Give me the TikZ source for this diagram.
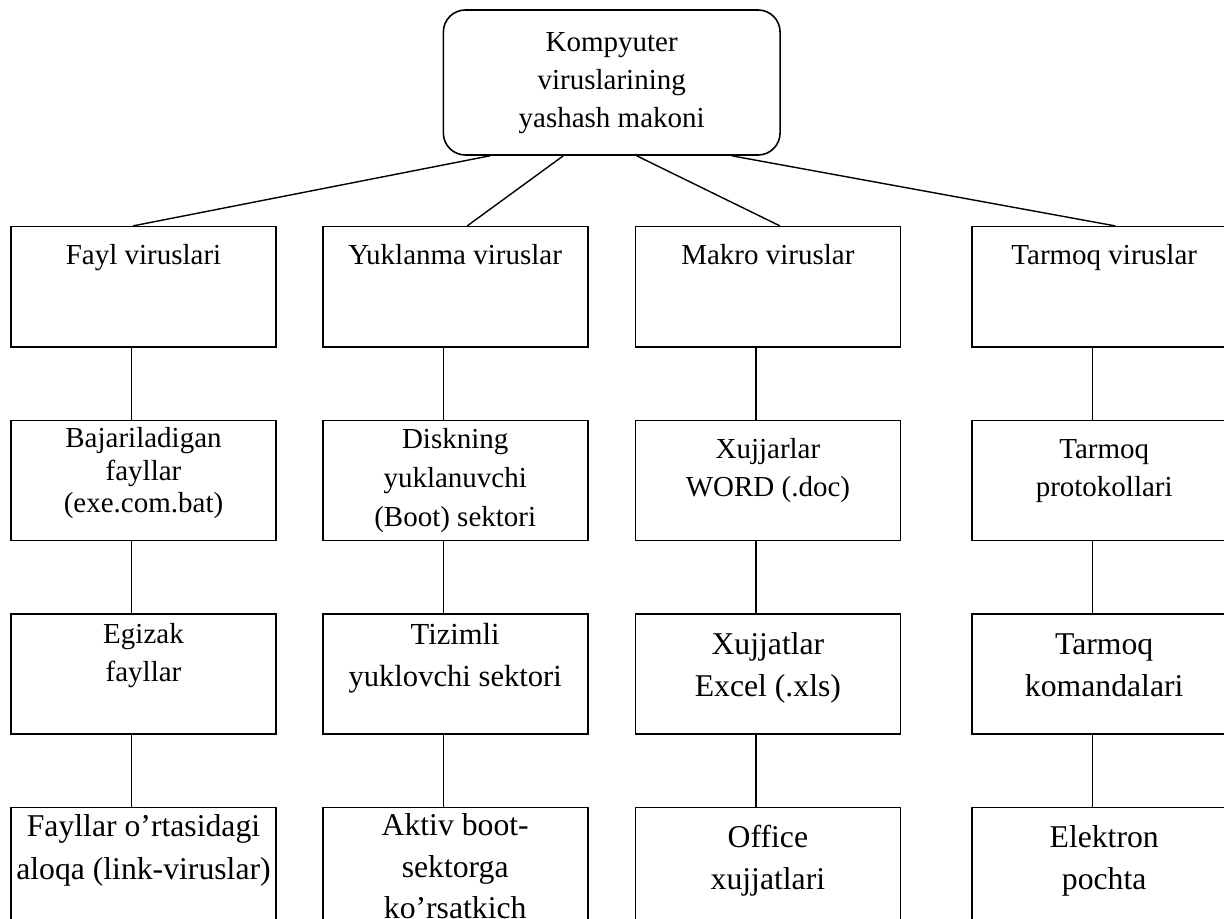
\documentclass[tikz,border=0pt]{standalone}
\usepackage{fontspec}
\setmainfont{Liberation Serif}
\usetikzlibrary{positioning}

\newcommand{\intxt}[4]{\parbox[t][60pt][t]{132.5pt}{\centering\fontsize{#1}{#2}\selectfont\rule{0pt}{#3}#4}}

\begin{document}
\begin{tikzpicture}[x=0.5pt,y=-0.5pt,node distance=36pt,
 box/.style={draw,line width=0.8pt,inner sep=0pt,minimum width=132.5pt,minimum height=60pt},
 rootbox/.style={draw,line width=0.8pt,inner sep=0pt,rounded corners=11pt},
 conn/.style={line width=0.7pt}]
\useasboundingbox (0,0) rectangle (1224,919);
\clip (0,0) rectangle (1224,919);
\node[rootbox] (root) at (611.7,82.5) {\parbox[t][72.5pt][t]{168.35pt}{\centering\fontsize{14.5pt}{19pt}\selectfont\rule{0pt}{20.85pt}Kompyuter\\viruslarining\\yashash makoni}};
\node[box] (f0) at (143.5,286.7) {\intxt{14.5pt}{19pt}{19pt}{Fayl viruslari}};
\node[box] (y0) at (455.2,286.7) {\intxt{14.5pt}{19pt}{19pt}{Yuklanma viruslar}};
\node[box] (m0) at (767.9,286.7) {\intxt{14.5pt}{19pt}{19pt}{Makro viruslar}};
\node[box] (t0) at (1104.2,286.7) {\intxt{14.5pt}{19pt}{19pt}{Tarmoq viruslar}};
\node[box,below=of f0] (f1) {\intxt{14.5pt}{16.35pt}{13.5pt}{Bajariladigan\\fayllar\\(exe.com.bat)}};
\node[box,below=of y0] (y1) {\intxt{14.5pt}{19.6pt}{13.85pt}{Diskning\\yuklanuvchi\\(Boot) sektori}};
\node[box,below=of m0] (m1) {\intxt{14.5pt}{19.15pt}{18.85pt}{Xujjarlar\\WORD (.doc)}};
\node[box,below=of t0] (t1) {\intxt{14.5pt}{19.15pt}{18.85pt}{Tarmoq\\protokollari}};
\node[box,below=of f1] (f2) {\intxt{14.5pt}{19.15pt}{14.65pt}{Egizak\\fayllar}};
\node[box,below=of y1] (y2) {\intxt{15.3pt}{20.85pt}{15.5pt}{Tizimli\\yuklovchi sektori}};
\node[box,below=of m1] (m2) {\intxt{15.85pt}{20.85pt}{20.5pt}{Xujjatlar\\Excel (.xls)}};
\node[box,below=of t1] (t2) {\intxt{15.85pt}{20.85pt}{20.5pt}{Tarmoq\\komandalari}};
\node[box,below=of f2] (f3) {\intxt{15.85pt}{21.65pt}{14.35pt}{Fayllar o’rtasidagi\\aloqa (link-viruslar)}};
\node[box,below=of y2] (y3) {\intxt{15.85pt}{20.7pt}{14.2pt}{Aktiv boot-\\sektorga\\ko’rsatkich}};
\node[box,below=of m2] (m3) {\intxt{15.85pt}{20.85pt}{20.15pt}{Office\\xujjatlari}};
\node[box,below=of t2] (t3) {\intxt{15.85pt}{20.85pt}{20.15pt}{Elektron\\pochta}};
\draw[conn] ([xshift=-60.85pt]root.south) -- ([xshift=-5.25pt]f0.north);
\draw[conn] ([xshift=-24.2pt]root.south) -- ([xshift=6pt]y0.north);
\draw[conn] ([xshift=12.5pt]root.south) -- ([xshift=6pt]m0.north);
\draw[conn] ([xshift=60pt]root.south) -- ([xshift=5.5pt]t0.north);
\foreach \c in {f,y,m,t}
 \foreach \i/\j in {0/1,1/2,2/3}
  \draw[conn] ([xshift=-6pt]\c\i.south) -- ([xshift=-6pt]\c\j.north);
\end{tikzpicture}
\end{document}
